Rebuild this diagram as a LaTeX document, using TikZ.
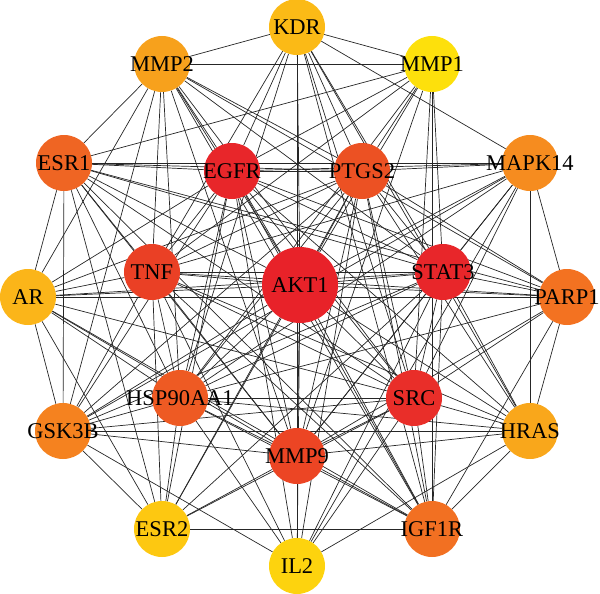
\documentclass[tikz,border=0pt]{standalone}
\usepackage{fontspec}
\setmainfont{Liberation Serif}
\pgfdeclarelayer{bg}
\pgfsetlayers{bg,main}
\definecolor{cKDR}{HTML}{FBBA16}
\definecolor{cMMPa}{HTML}{FDE00C}
\definecolor{cMMPb}{HTML}{F7A11C}
\definecolor{cESRa}{HTML}{EF6523}
\definecolor{cEGFR}{HTML}{E8262A}
\definecolor{cPTGS}{HTML}{EC5123}
\definecolor{cMAPK}{HTML}{F68C1F}
\definecolor{cTNF}{HTML}{EA4025}
\definecolor{cAKT}{HTML}{E82229}
\definecolor{cSTAT}{HTML}{E8262A}
\definecolor{cAR}{HTML}{FBB519}
\definecolor{cPARP}{HTML}{F37221}
\definecolor{cHSP}{HTML}{EE5A23}
\definecolor{cSRC}{HTML}{E92E29}
\definecolor{cGSK}{HTML}{F5821F}
\definecolor{cHRAS}{HTML}{F9A71B}
\definecolor{cMMPn}{HTML}{EC4524}
\definecolor{cESRb}{HTML}{FDC811}
\definecolor{cIGF}{HTML}{F27022}
\definecolor{cIL}{HTML}{FDD30E}
\begin{document}
\begin{tikzpicture}[x=1pt,y=-1pt,
  gn/.style={circle, minimum size=56pt, inner sep=0pt, draw=none},
  big/.style={circle, minimum size=76pt, inner sep=0pt, draw=none},
  lbl/.style={font=\fontsize{22.5}{22.5}\selectfont, text=black, inner sep=0pt},
  edge/.style={draw=black!85, line width=0.7pt}]
\useasboundingbox (0,0) rectangle (600,594);
% outer ring
\node[gn, fill=cKDR,  label={[lbl]center:KDR}]    (KDR)   at (297,27)  {};
\node[gn, fill=cMMPa, label={[lbl]center:MMP1}]   (MMP1)  at (432,64)  {};
\node[gn, fill=cMAPK, label={[lbl]center:MAPK14}] (MAPK14) at (530,163) {};
\node[gn, fill=cPARP, label={[lbl]center:PARP1}]  (PARP1) at (567,297) {};
\node[gn, fill=cHRAS, label={[lbl]center:HRAS}]   (HRAS)  at (530,431) {};
\node[gn, fill=cIGF,  label={[lbl]center:IGF1R}]  (IGF1R) at (432,529) {};
\node[gn, fill=cIL,   label={[lbl]center:IL2}]    (IL2)   at (297,566) {};
\node[gn, fill=cESRb, label={[lbl]center:ESR2}]   (ESR2)  at (162,529) {};
\node[gn, fill=cGSK,  label={[lbl]center:GSK3B}]  (GSK3B) at (63,431)  {};
\node[gn, fill=cAR,   label={[lbl]center:AR}]     (AR)    at (28,297)  {};
\node[gn, fill=cESRa, label={[lbl]center:ESR1}]   (ESR1)  at (64,163)  {};
\node[gn, fill=cMMPb, label={[lbl]center:MMP2}]   (MMP2)  at (162,64)  {};
% inner ring
\node[gn, fill=cEGFR, label={[lbl]center:EGFR}]   (EGFR)  at (232,171) {};
\node[gn, fill=cPTGS, label={[lbl]center:PTGS2}]  (PTGS2) at (362,171) {};
\node[gn, fill=cSTAT, label={[lbl]center:STAT3}]  (STAT3) at (443,272) {};
\node[gn, fill=cSRC,  label={[lbl]center:SRC}]    (SRC)   at (414,398) {};
\node[gn, fill=cMMPn, label={[lbl]center:MMP9}]   (MMP9)  at (297,456) {};
\node[gn, fill=cHSP,  label={[lbl]center:HSP90AA1}] (HSP) at (180,398) {};
\node[gn, fill=cTNF,  label={[lbl]center:TNF}]    (TNF)   at (152,272) {};
\node[big, fill=cAKT, label={[lbl]center:AKT1}]   (AKT1)  at (300,285) {};
\begin{pgfonlayer}{bg}
% inner mesh
\foreach \a/\b in {AKT1/EGFR,AKT1/PTGS2,AKT1/STAT3,AKT1/SRC,AKT1/MMP9,AKT1/HSP,AKT1/TNF,
  EGFR/PTGS2,EGFR/STAT3,EGFR/SRC,EGFR/MMP9,EGFR/HSP,EGFR/TNF,
  PTGS2/STAT3,PTGS2/SRC,PTGS2/MMP9,PTGS2/HSP,PTGS2/TNF,
  STAT3/SRC,STAT3/MMP9,STAT3/HSP,STAT3/TNF,
  SRC/MMP9,SRC/HSP,SRC/TNF,MMP9/HSP,MMP9/TNF,HSP/TNF}
  \draw[edge] (\a) -- (\b);
% outer to inner
\foreach \o in {KDR,MMP1,MAPK14,PARP1,HRAS,IGF1R,IL2,ESR2,GSK3B,AR,ESR1,MMP2}
  \foreach \i in {AKT1,EGFR,PTGS2,STAT3,SRC,MMP9,HSP,TNF}
    \draw[edge] (\o) -- (\i);
% outer to outer
\foreach \a/\b in {KDR/MMP2,KDR/MMP1,MMP2/MMP1,KDR/MAPK14,MMP1/ESR1,MAPK14/PARP1,
  MAPK14/HRAS,PARP1/HRAS,PARP1/IGF1R,HRAS/IGF1R,IL2/HRAS,ESR2/IGF1R,ESR2/GSK3B,
  ESR2/AR,ESR1/ESR2,ESR1/AR,ESR1/GSK3B,AR/GSK3B,MMP2/ESR1,MMP2/AR,MMP2/GSK3B,
  MAPK14/ESR1,AR/PARP1,GSK3B/HRAS,AR/IGF1R,MMP1/IGF1R,KDR/IGF1R,KDR/HRAS,
  MAPK14/GSK3B,MAPK14/IL2,ESR1/IGF1R,ESR1/PARP1,MMP2/IGF1R,GSK3B/IL2,MMP2/PARP1}
  \draw[edge] (\a) -- (\b);
\end{pgfonlayer}
\end{tikzpicture}
\end{document}
